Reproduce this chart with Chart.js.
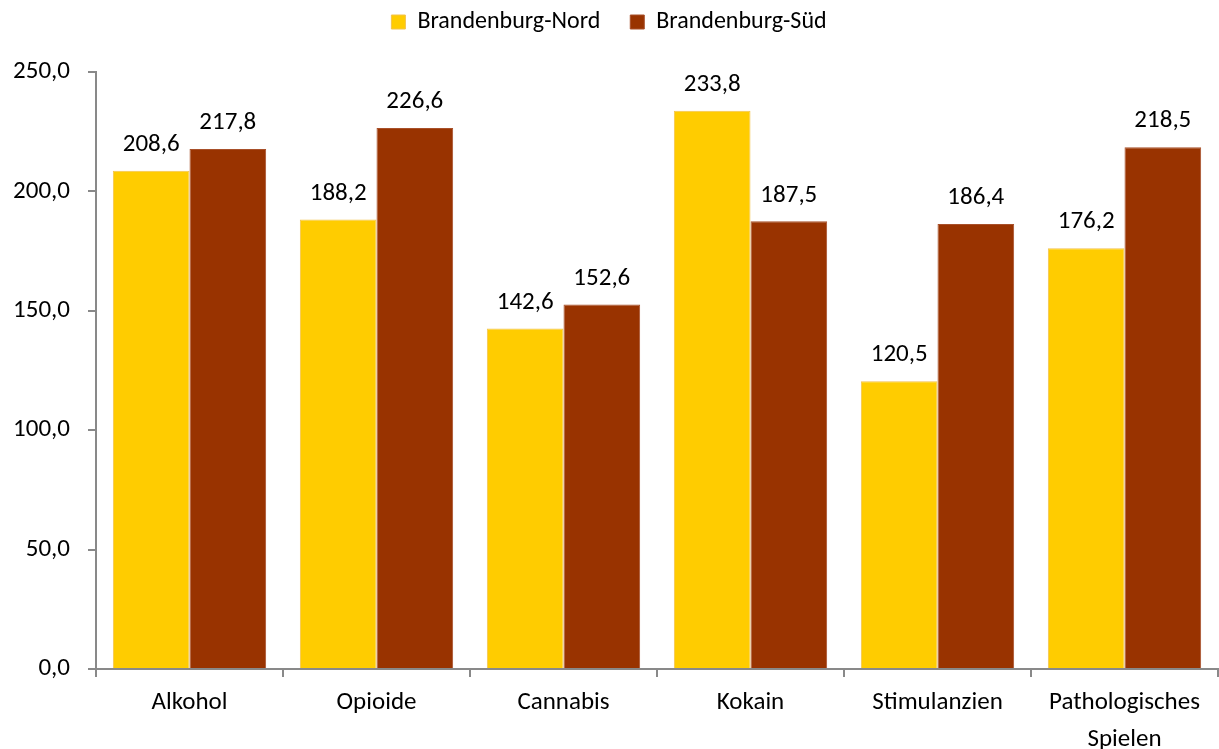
<!DOCTYPE html>
<html>
<head>
    <title>Brandenburg Nord / Süd</title>
    <script src="https://cdn.jsdelivr.net/npm/chart.js"></script>
    <style>
        body { margin: 0; background: #fff; }
    </style>
</head>
<body>
    <canvas id="myChart" width="1219" height="749"></canvas>
    <script>
        const categories = ['Alkohol', 'Opioide', 'Cannabis', 'Kokain', 'Stimulanzien', ['Pathologisches', 'Spielen']];
        const nord = [208.6, 188.2, 142.6, 233.8, 120.5, 176.2];
        const sued = [217.8, 226.6, 152.6, 187.5, 186.4, 218.5];
        const yTicks = [0, 50, 100, 150, 200, 250];

        const fontFamily = 'Carlito, Lato, "Open Sans", sans-serif';
        const fmt = v => v.toFixed(1).replace('.', ',');

        // value labels above each bar
        const valueLabels = {
            id: 'valueLabels',
            afterDatasetsDraw(chart) {
                const ctx = chart.ctx;
                ctx.save();
                ctx.font = '25px ' + fontFamily;
                ctx.fillStyle = '#000';
                ctx.textAlign = 'center';
                ctx.textBaseline = 'middle';
                chart.data.datasets.forEach((ds, i) => {
                    chart.getDatasetMeta(i).data.forEach((bar, j) => {
                        ctx.fillText(fmt(ds.data[j]), bar.x, bar.y - 26);
                    });
                });
                ctx.restore();
            }
        };

        // extra space between legend and plot
        const legendSpacer = {
            id: 'legendSpacer',
            beforeInit(chart) {
                const fit = chart.legend.fit;
                chart.legend.fit = function () {
                    fit.bind(chart.legend)();
                    this.height += 28;
                };
            }
        };

        const ctx = document.getElementById('myChart').getContext('2d');
        const myChart = new Chart(ctx, {
            type: 'bar',
            data: {
                labels: categories,
                datasets: [{
                    label: 'Brandenburg-Nord',
                    data: nord,
                    backgroundColor: '#FFCC00',
                    borderColor: '#F2C24D',
                    borderWidth: 1
                }, {
                    label: 'Brandenburg-Süd',
                    data: sued,
                    backgroundColor: '#993300',
                    borderColor: '#A8502A',
                    borderWidth: 1
                }]
            },
            options: {
                responsive: false,
                animation: false,
                layout: { padding: { left: 0, right: 1, top: -20, bottom: 0 } },
                datasets: {
                    bar: { categoryPercentage: 0.82, barPercentage: 1.0 }
                },
                plugins: {
                    legend: {
                        position: 'top',
                        labels: {
                            font: { family: fontFamily, size: 24 },
                            color: '#000',
                            boxWidth: 14,
                            boxHeight: 14,
                            padding: 30
                        }
                    },
                    tooltip: { enabled: false }
                },
                scales: {
                    x: {
                        offset: true,
                        afterFit: axis => { axis.height = 80; },
                        grid: {
                            offset: true,
                            drawOnChartArea: false,
                            drawTicks: true,
                            tickLength: 8,
                            color: '#898989',
                            lineWidth: 2
                        },
                        border: { color: '#898989', width: 2 },
                        ticks: {
                            font: { family: fontFamily, size: 25, lineHeight: 1.45 },
                            color: '#000',
                            padding: 8,
                            maxRotation: 0
                        }
                    },
                    y: {
                        min: 0,
                        max: 250,
                        afterBuildTicks: axis => {
                            axis.ticks = yTicks.map(v => ({ value: v }));
                        },
                        afterFit: axis => { axis.width = 96; },
                        grid: {
                            drawOnChartArea: false,
                            drawTicks: true,
                            tickLength: 8,
                            color: '#898989',
                            lineWidth: 2
                        },
                        border: { color: '#898989', width: 2 },
                        ticks: {
                            font: { family: fontFamily, size: 25 },
                            color: '#000',
                            padding: 18,
                            callback: v => fmt(v)
                        }
                    }
                }
            },
            plugins: [valueLabels, legendSpacer]
        });
    </script>
</body>
</html>
